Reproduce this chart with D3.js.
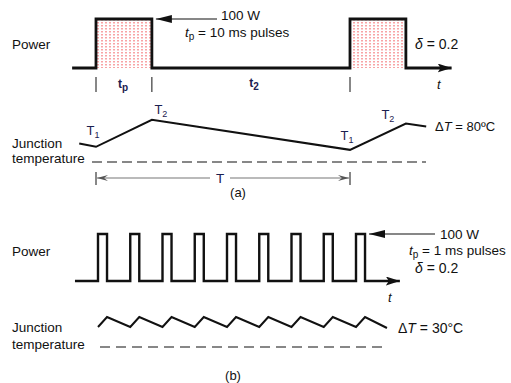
<!DOCTYPE html>
<html>
<head>
<meta charset="utf-8">
<script src="https://cdn.jsdelivr.net/npm/d3@7"></script>
<style>
  body { margin: 0; background: #fff; }
  svg text { font-family: "Liberation Sans", Arial, sans-serif; fill: #111; }
</style>
</head>
<body>
<div id="chart"></div>
<script>
// ---- panel (a): 10 ms pulses, period 50 ms (values in ms, W, degC above reference)
const powerA = [[-4.7, 0], [0, 100], [11, 0], [50, 100], [61, 0], [70, 0]]
const pulsesA = [[0, 11], [50, 61]]
const tempTimesA = [-3.3, 0, 11, 50, 61, 65]
const tempValuesA = [55, 45, 125, 36, 114, 105]
const tempLabelsA = [
    { t: 0, v: 45, label: "T", sub: "1" },
    { t: 11, v: 125, label: "T", sub: "2" },
    { t: 50, v: 36, label: "T", sub: "1" },
    { t: 61, v: 114, label: "T", sub: "2" }
]
const ticksA = [0, 11, 50]

// ---- panel (b): 1 ms pulses, drawn period 5 units
const pulseStartsB = [0, 5, 10, 15, 20, 25, 30, 35, 40]
const pulseWidthB = 1.4
const tempTimesB = [0, 1.4, 5, 6.4, 10, 11.4, 15, 16.4, 20, 21.4, 25, 26.4, 30, 31.4, 35, 36.4, 40, 41.4, 44.8]
const tempValuesB = [60, 90, 60, 90, 60, 90, 60, 90, 60, 90, 60, 90, 60, 90, 60, 90, 60, 90, 57]

const width = 511, height = 383

const svg = d3.select("#chart").append("svg")
    .attr("width", width)
    .attr("height", height)

const defs = svg.append("defs")
const dots = defs.append("pattern")
    .attr("id", "dots")
    .attr("patternUnits", "userSpaceOnUse")
    .attr("width", 4).attr("height", 3)
dots.append("rect").attr("width", 4).attr("height", 3).attr("fill", "#fff")
dots.append("rect").attr("x", 1).attr("y", 1).attr("width", 2).attr("height", 1.5).attr("fill", "#f8a4a6")

defs.append("marker")
    .attr("id", "head")
    .attr("viewBox", "0 0 14 9")
    .attr("refX", 14).attr("refY", 4.5)
    .attr("markerWidth", 14).attr("markerHeight", 9)
    .attr("markerUnits", "userSpaceOnUse")
    .attr("orient", "auto")
    .append("path").attr("d", "M0,0L14,4.5L0,9L3,4.5Z").attr("fill", "#111")

defs.append("marker")
    .attr("id", "headBig")
    .attr("viewBox", "0 0 16 8")
    .attr("refX", 16).attr("refY", 4)
    .attr("markerWidth", 16).attr("markerHeight", 8)
    .attr("markerUnits", "userSpaceOnUse")
    .attr("orient", "auto")
    .append("path").attr("d", "M0,0L16,4L0,8Z").attr("fill", "#111")

defs.append("marker")
    .attr("id", "headGray")
    .attr("viewBox", "0 0 12 8")
    .attr("refX", 11).attr("refY", 4)
    .attr("markerWidth", 12).attr("markerHeight", 8)
    .attr("markerUnits", "userSpaceOnUse")
    .attr("orient", "auto")
    .append("path").attr("d", "M0,1L11,4L0,7L4,4Z").attr("fill", "#555")

// helper for text with subscript
function subText(g, x, y, main, sub, opts = {}) {
    const t = g.append("text").attr("x", x).attr("y", y)
        .style("font-size", (opts.size || 13) + "px")
        .attr("text-anchor", opts.anchor || "start")
    t.append("tspan").text(main).style("font-style", opts.italic ? "italic" : "normal")
    t.append("tspan").text(sub).attr("dy", 3).style("font-size", (opts.subSize || 10) + "px")
    if (opts.rest) t.append("tspan").attr("dy", -3).text(opts.rest)
    return t
}

// ================= panel (a) =================
const xA = d3.scaleLinear().domain([0, 50]).range([96, 350])
const pA = d3.scaleLinear().domain([0, 100]).range([68, 19])
const tA = d3.scaleLinear().domain([0, 100]).range([162, 128.25])

const gA = svg.append("g")

gA.selectAll("rect.pulse")
    .data(pulsesA)
    .enter()
    .append("rect")
    .attr("class", "pulse")
    .attr("x", d => xA(d[0]))
    .attr("y", pA(100))
    .attr("width", d => xA(d[1]) - xA(d[0]))
    .attr("height", pA(0) - pA(100))
    .attr("fill", "url(#dots)")

gA.append("path")
    .datum(powerA)
    .attr("fill", "none")
    .attr("stroke", "#111")
    .attr("stroke-width", 2.8)
    .attr("marker-end", "url(#head)")
    .attr("d", d3.line().x(d => xA(d[0])).y(d => pA(d[1])).curve(d3.curveStepAfter))

gA.selectAll("line.tick")
    .data(ticksA)
    .enter()
    .append("line")
    .attr("x1", d => xA(d)).attr("x2", d => xA(d))
    .attr("y1", 77).attr("y2", 92)
    .attr("stroke", "#111").attr("stroke-width", 1)

gA.append("text").attr("x", 12).attr("y", 49).style("font-size", "13.5px").text("Power")
subText(gA, (xA(0) + xA(11)) / 2 - 1, 88, "t", "p", { anchor: "middle", size: 12 })
    .style("font-weight", "bold").style("fill", "#1a2050")
subText(gA, (xA(11) + xA(50)) / 2 + 3, 87, "t", "2", { anchor: "middle", size: 12 })
    .style("font-weight", "bold").style("fill", "#1a2050")
gA.append("text").attr("x", 437).attr("y", 89).style("font-size", "13px").style("font-style", "italic").text("t")

// 100 W arrow
gA.append("line")
    .attr("x1", 217).attr("y1", pA(100)).attr("x2", xA(11) + 4).attr("y2", pA(100))
    .attr("stroke", "#111").attr("stroke-width", 1.2)
    .attr("marker-end", "url(#headBig)")
gA.append("text").attr("x", 221).attr("y", 20).style("font-size", "13.5px").text("100 W")
subText(gA, 185, 37, "t", "p", { italic: true, size: 13.5, rest: " = 10 ms pulses" })
gA.append("text").attr("x", 415).attr("y", 49).style("font-size", "14px")
    .html('<tspan font-style="italic">δ</tspan> = 0.2')

// junction temperature
gA.append("path")
    .datum(tempTimesA.map((t, i) => [t, tempValuesA[i]]))
    .attr("fill", "none")
    .attr("stroke", "#111")
    .attr("stroke-width", 2)
    .attr("d", d3.line().x(d => xA(d[0])).y(d => tA(d[1])))

gA.append("line")
    .attr("x1", 92).attr("x2", 426).attr("y1", tA(0)).attr("y2", tA(0))
    .attr("stroke", "#111").attr("stroke-width", 1.2)
    .attr("stroke-dasharray", "10,5")

tempLabelsA.forEach((d, i) => {
    const dx = [-3, 9, -3, -18][i]
    const dy = [-12, -6, -10, -5][i]
    subText(gA, xA(d.t) + dx, tA(d.v) + dy, d.label, d.sub, { size: 13, subSize: 9, anchor: "middle" })
        .style("fill", "#1a2050")
})

gA.append("text").attr("x", 12).attr("y", 148).style("font-size", "13.5px").text("Junction")
gA.append("text").attr("x", 12).attr("y", 163).style("font-size", "13.5px").text("temperature")
gA.append("text").attr("x", 435).attr("y", 131).style("font-size", "13px")
    .html('Δ<tspan font-style="italic">T</tspan> = 80ºC')

// period T arrow
gA.selectAll("line.per")
    .data([0, 50])
    .enter()
    .append("line")
    .attr("x1", d => xA(d)).attr("x2", d => xA(d))
    .attr("y1", 172).attr("y2", 185)
    .attr("stroke", "#111").attr("stroke-width", 1)
gA.append("line")
    .attr("x1", 210).attr("x2", xA(0) + 1).attr("y1", 178).attr("y2", 178)
    .attr("stroke", "#777").attr("stroke-width", 1.2).attr("marker-end", "url(#headGray)")
gA.append("line")
    .attr("x1", 230).attr("x2", xA(50) - 1).attr("y1", 178).attr("y2", 178)
    .attr("stroke", "#777").attr("stroke-width", 1.2).attr("marker-end", "url(#headGray)")
gA.append("text").attr("x", 220).attr("y", 183).attr("text-anchor", "middle")
    .style("font-size", "13.5px").style("fill", "#1a2050").text("T")
gA.append("text").attr("x", 238).attr("y", 197).attr("text-anchor", "middle")
    .style("font-size", "13px").text("(a)")

// ================= panel (b) =================
const xB = d3.scaleLinear().domain([0, 40]).range([98, 356])
const pB = d3.scaleLinear().domain([0, 100]).range([281, 234])
const tB = d3.scaleLinear().domain([0, 100]).range([347, 313.7])

const gB = svg.append("g")

const powerB = [[-3.57, 0]]
pulseStartsB.forEach(s => { powerB.push([s, 100]); powerB.push([s + pulseWidthB, 0]) })
powerB.push([46.8, 0])

gB.append("path")
    .datum(powerB)
    .attr("fill", "none")
    .attr("stroke", "#111")
    .attr("stroke-width", 2.4)
    .attr("marker-end", "url(#head)")
    .attr("d", d3.line().x(d => xB(d[0])).y(d => pB(d[1])).curve(d3.curveStepAfter))

gB.append("text").attr("x", 12).attr("y", 256).style("font-size", "13.5px").text("Power")
gB.append("line")
    .attr("x1", 435).attr("y1", pB(100)).attr("x2", xB(40 + pulseWidthB) + 4).attr("y2", pB(100))
    .attr("stroke", "#111").attr("stroke-width", 1.2)
    .attr("marker-end", "url(#headBig)")
gB.append("text").attr("x", 440).attr("y", 239).style("font-size", "13.5px").text("100 W")
subText(gB, 409, 255, "t", "p", { italic: true, size: 13.5, rest: " = 1 ms pulses" })
gB.append("text").attr("x", 415).attr("y", 273).style("font-size", "14px")
    .html('<tspan font-style="italic">δ</tspan> = 0.2')
gB.append("text").attr("x", 388).attr("y", 302).style("font-size", "13px").style("font-style", "italic").text("t")

gB.append("path")
    .datum(tempTimesB.map((t, i) => [t, tempValuesB[i]]))
    .attr("fill", "none")
    .attr("stroke", "#111")
    .attr("stroke-width", 2)
    .attr("d", d3.line().x(d => xB(d[0])).y(d => tB(d[1])))

gB.append("line")
    .attr("x1", 100).attr("x2", 388).attr("y1", tB(0)).attr("y2", tB(0))
    .attr("stroke", "#111").attr("stroke-width", 1.2)
    .attr("stroke-dasharray", "10,6")

gB.append("text").attr("x", 12).attr("y", 332).style("font-size", "13.5px").text("Junction")
gB.append("text").attr("x", 12).attr("y", 349).style("font-size", "13.5px").text("temperature")
gB.append("text").attr("x", 398).attr("y", 333).style("font-size", "14px")
    .html('Δ<tspan font-style="italic">T</tspan> = 30°C')
gB.append("text").attr("x", 233).attr("y", 380).attr("text-anchor", "middle")
    .style("font-size", "13px").text("(b)")
</script>
</body>
</html>
